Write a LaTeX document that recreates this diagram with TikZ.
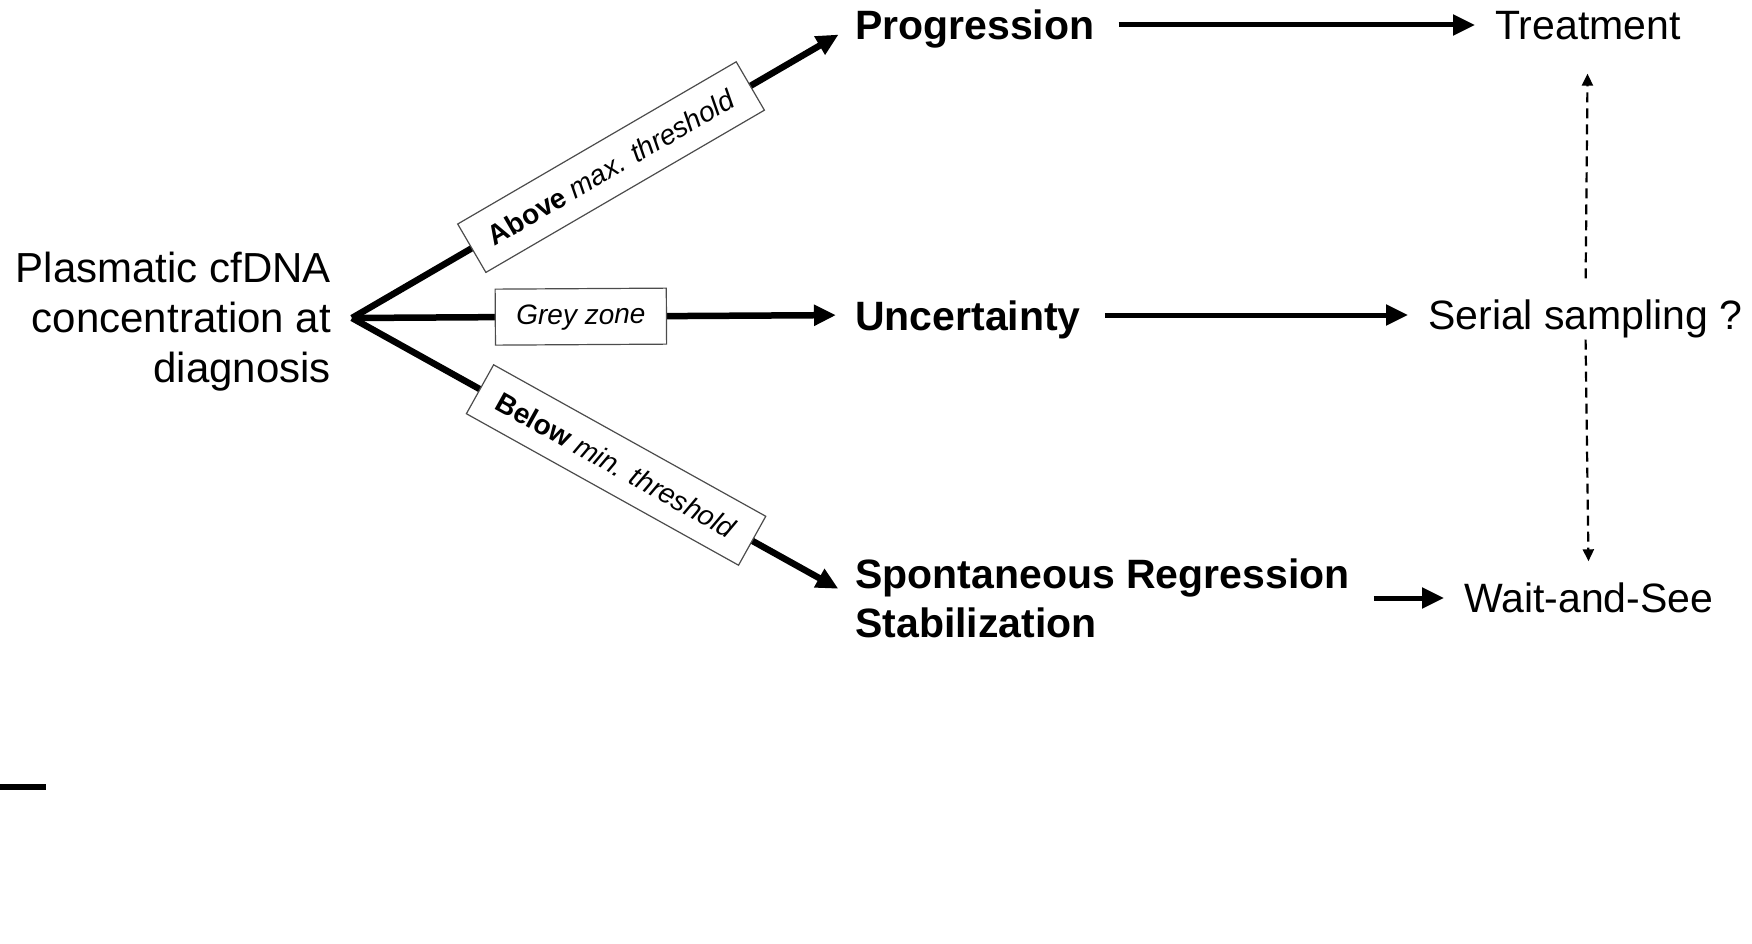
\documentclass[tikz,border=0pt]{standalone}
\usepackage{fontspec}
\setmainfont{Liberation Sans}
\usetikzlibrary{arrows.meta}

\begin{document}
\begin{tikzpicture}[
			x=1pt, y=-1pt,
			>={Triangle[length=22pt, width=20pt]},
			txt/.style={inner sep=0pt, font=\fontsize{41}{50}\selectfont},
			line/.style={txt, text height=29pt, text depth=0pt},
			bline/.style={txt, font=\fontsize{41}{49}\selectfont\bfseries},
			branch/.style={->, line width=6.5pt, shorten >=19pt},
			arr/.style={->, line width=5pt, shorten <=24pt, shorten >=20pt},
			dasharr/.style={-{Triangle[length=12pt, width=11pt]}, line width=2.2pt, dash pattern=on 10pt off 6pt},
			lbl/.style={draw=black!70, fill=white, line width=1.2pt, sloped, minimum height=56pt,
				inner xsep=21pt, font=\fontsize{28}{30}\selectfont}
		]
			\useasboundingbox (0,0) rectangle (1752,944);
			% start
			\node[txt, font=\fontsize{42}{50}\selectfont, align=right, anchor=east] (src) at (331,322)
				{Plasmatic cfDNA\\concentration at\\diagnosis};
			\coordinate (jn) at (352,318);
			% outcomes
			\node[bline, text height=30pt, text depth=0pt, anchor=west] (prog) at (855,25) {Progression};
			\node[bline, text height=30pt, text depth=0pt, anchor=west] (unc) at (855,315) {Uncertainty};
			\node[bline, align=left, anchor=west] (reg) at (855,598) {Spontaneous Regression\\Stabilization};
			% decisions
			\node[line, anchor=west] (trt) at (1495,25) {Treatment};
			\node[line, anchor=west] (ser) at (1428,315) {Serial sampling ?};
			\node[line, anchor=west] (wait) at (1464,598) {Wait-and-See};
			% branches
			\draw[branch] (jn) -- node[lbl, pos=0.515] {\textbf{Above} \textit{max. threshold}} (prog.west);
			\draw[branch] (jn) -- node[lbl, pos=0.455, text height=21pt, text depth=6pt] {\textit{Grey zone}} (unc.west);
			\draw[branch] (jn) -- node[lbl, pos=0.525] {\textbf{Below} \textit{min. threshold}} (reg.west);
			% consequences
			\draw[arr] (prog.east) -- (trt.west);
			\draw[arr] (unc.east) -- (ser.west);
			\draw[arr] (reg.east) -- (wait.west);
			\draw[dasharr, shorten <=22pt, shorten >=34pt] (ser.north) -- (trt.south);
			\draw[dasharr, shorten <=10pt, shorten >=22pt] (ser.south) -- (wait.north);
			%\draw (0,787) -- (46,787);
			\draw[line width=6pt] (0,787) -- (46,787);
		\end{tikzpicture}
\end{document}
